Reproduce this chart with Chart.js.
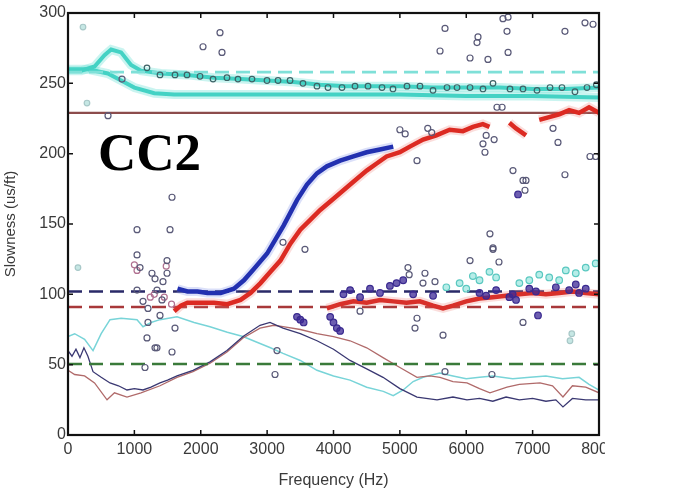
<!DOCTYPE html>
<html>
<head>
<meta charset="utf-8">
<script src="https://cdn.jsdelivr.net/npm/chart.js@4.4.1/dist/chart.umd.min.js"></script>
<style>
  body { margin: 0; background: #fff; }
  canvas { display: block; }
</style>
</head>
<body>
<canvas id="slowChart" width="675" height="494"></canvas>
<script>
// ===== AXIS TICKS =====
const xTicks = [0, 1000, 2000, 3000, 4000, 5000, 6000, 7000, 8000];
const yTicks = [0, 50, 100, 150, 200, 250, 300];

// ===== REFERENCE LINES (flat) =====
const flatFreq = [0, 8000];
const brownFlat = [229, 229];
const cyanDash = [258, 258];
const blueDash = [102, 102];
const redDash = [91, 91];
const greenDash = [50.5, 50.5];

// ===== CYAN BAND CURVES =====
const cyanAFreq = [0, 200, 400, 550, 650, 800, 950, 1100, 1400, 1800, 2200, 2600, 3000, 3400, 3800, 4200, 4600, 5000, 5500, 6000, 6500, 7000, 7500, 8000];
const cyanAVal  = [259, 259, 262, 270, 274, 272, 263, 259, 257, 256, 254, 253, 252, 251, 249, 248, 248, 248, 247, 247, 247, 246, 246, 247];
const cyanBFreq = [0, 300, 600, 800, 1000, 1300, 1600, 2000, 3000, 4000, 5000, 6000, 7000, 8000];
const cyanBVal  = [260, 260, 257, 252, 247, 243, 242, 242, 242, 242, 242, 241, 241, 240];

// circles riding on the cyan band
const bandFreq = [1190, 1386, 1612, 1793, 1989, 2185, 2395, 2561, 2772, 2998, 3164, 3345, 3540, 3751, 3917, 4128, 4324, 4520, 4731, 4896, 5107, 5303, 5499, 5710, 5861, 6057, 6252, 6403, 6659, 6855, 7066, 7262, 7442, 7638, 7819, 7960];
const bandVal  = [261, 256, 256, 256, 255, 253, 254, 253, 253, 252, 252, 252, 250, 248, 247, 247, 248, 248, 247, 246, 248, 248, 245, 247, 247, 247, 246, 250, 246, 246, 245, 247, 247, 244, 247, 249];

// ===== DISPERSION CURVES =====
const blueFreq = [1650, 1800, 1950, 2100, 2300, 2500, 2650, 2800, 3000, 3150, 3250, 3450, 3600, 3750, 3900, 4100, 4300, 4500, 4700, 4900];
const blueVal  = [104, 102, 102, 101, 101, 104, 110, 118, 129, 141, 149, 167, 178, 186, 191, 195, 198, 201, 203, 205];
const redFreq = [1600, 1700, 1800, 2000, 2200, 2400, 2600, 2750, 2900, 3050, 3200, 3350, 3500, 3650, 3800, 4000, 4150, 4300, 4500, 4650, 4800, 5000, 5150, 5350, 5550, 5750, 5950, 6100, 6250, 6350, 6500, 6650, 6750, 6900, 7000, 7100, 7250, 7400, 7550, 7700, 7850, 8000];
const redVal   = [88, 92, 94, 94, 94, 93, 96, 101, 108, 116, 124, 136, 146, 153, 160, 168, 174, 180, 188, 193, 198, 201, 205, 210, 213, 217, 216, 219, 221, 219, null, 222, 218, 213, null, 224, 226, 228, 231, 229, 233, 229];
const redLowFreq = [3900, 4100, 4300, 4500, 4700, 4900, 5100, 5300, 5500, 5650, 5800, 6000, 6200, 6400, 6600, 6800, 7000, 7200, 7400, 7600, 7800, 8000];
const redLowVal  = [90, 93, 95, 94, 96, 95, 94, 95, 92, 90, 92, 95, 97, 98, 99, 100, 101, 100, 101, 102, 101, 100];

// ===== THIN CURVES =====
const cyanThinFreq = [0, 100, 250, 377, 500, 633, 800, 1040, 1130, 1250, 1386, 1642, 1900, 2140, 2400, 2637, 2893, 3050, 3239, 3500, 3751, 4000, 4249, 4500, 4750, 4900, 5050, 5200, 5350, 5600, 5800, 6000, 6200, 6400, 6700, 6960, 7200, 7450, 7700, 7850, 8000];
const cyanThinVal  = [70, 72, 68, 60, 72, 82, 83, 82, 77, 80, 82, 84, 80, 77, 73, 70, 65, 62, 58, 53, 46, 42, 39, 34, 31, 28, 32, 38, 41, 44, 42, 40, 41, 42, 40, 41, 42, 40, 41, 36, 32];
const navyFreq = [0, 60, 120, 180, 240, 300, 377, 500, 633, 760, 889, 1000, 1130, 1250, 1386, 1500, 1642, 1883, 2140, 2395, 2637, 2893, 3043, 3239, 3500, 3751, 4000, 4249, 4500, 4746, 5000, 5258, 5560, 5800, 6011, 6200, 6400, 6600, 6800, 7000, 7200, 7350, 7457, 7600, 7800, 8000];
const navyVal  = [60, 56, 61, 55, 62, 56, 45, 41, 37, 35, 32, 33, 32, 34, 37, 39, 42, 46, 52, 60, 70, 78, 80, 76, 72, 67, 61, 53, 47, 41, 33, 27, 25, 27, 25, 26, 24, 27, 25, 26, 24, 25, 20, 26, 25, 25];
const brownFreq = [0, 100, 250, 400, 588, 700, 889, 1100, 1386, 1642, 1883, 2140, 2395, 2637, 2893, 3100, 3239, 3500, 3751, 4000, 4249, 4500, 4746, 5000, 5258, 5450, 5605, 5800, 6011, 6200, 6357, 6614, 6800, 7111, 7300, 7457, 7600, 7800, 8000];
const brownVal  = [46, 43, 42, 37, 25, 30, 27, 30, 35, 41, 45, 51, 59, 69, 76, 78, 77, 75, 72, 70, 67, 62, 55, 48, 41, 42, 41, 38, 37, 33, 30, 34, 36, 37, 35, 27, 35, 34, 30];

// ===== SCATTERED CIRCLES =====
const greyFreq = [603, 814, 2034, 2290, 2320, 1567, 1040, 1537, 1040, 1492, 1085, 1265, 1311, 1492, 1431, 1040, 1341, 1130, 1416, 1205, 1386, 1205, 1612, 1190, 1311, 1340, 1567, 1160, 3239, 3570, 3149, 3119, 5258, 5228, 5650, 5680, 6387, 4400, 6855, 6403, 6057, 6493, 5122, 5140, 5378, 5529, 5348, 5680, 5605, 6177, 6162, 6057, 6327, 6553, 6630, 6614, 6630, 7487, 7789, 7910, 6463, 6540, 6704, 6855, 6900, 6885, 7487, 7307, 7382, 6357, 6403, 5258, 6252, 6282, 7864, 7950, 6300, 6420, 5000, 5080, 5420, 5480];
const greyVal  = [227, 253, 276, 286, 272, 169, 146, 146, 128, 124, 119, 115, 111, 115, 109, 103, 103, 95, 96, 90, 85, 80, 76, 69, 62, 62, 59, 48, 137, 132, 60, 43, 83, 76, 71, 45, 43, 88, 80, 132, 124, 123, 119, 114, 115, 109, 108, 289, 273, 283, 279, 268, 267, 296, 297, 287, 272, 287, 293, 292, 233, 233, 188, 181, 181, 174, 185, 218, 208, 143, 133, 195, 207, 201, 198, 198, 213, 210, 217, 214, 218, 215];
const pinkFreq = [1000, 1040, 1240, 1300, 1450, 1480, 1560];
const pinkVal  = [121, 117, 98, 100, 98, 120, 93];
const faintFreq = [226, 286, 150, 7563, 7590];
const faintVal  = [290, 236, 119, 67, 72];
const tealFreq = [5700, 5900, 6000, 6100, 6200, 6350, 6450, 6800, 6950, 7100, 7250, 7400, 7500, 7650, 7800, 7950];
const tealVal  = [105, 108, 104, 113, 110, 116, 112, 108, 110, 114, 112, 110, 117, 115, 119, 122];
const purpleFreq = [3450, 3500, 3550, 3950, 4000, 4050, 4100, 4150, 4250, 4400, 4550, 4700, 4850, 4950, 5050, 5200, 5500, 6200, 6300, 6450, 6650, 6700, 6750, 6950, 7050, 7350, 7550, 7650, 7700, 7800, 6780, 7081];
const purpleVal  = [84, 82, 80, 84, 80, 76, 74, 100, 103, 98, 104, 101, 106, 108, 110, 100, 99, 101, 99, 103, 98, 100, 96, 104, 102, 105, 103, 107, 101, 104, 171, 85];

function pts(xs, ys) {
  return xs.map((x, i) => ({ x: x, y: ys[i] }));
}

// ===== DRAW HELPERS =====
const frame = {
  id: "frame",
  afterDatasetsDraw(chart) {
    const c = chart.ctx;
    const a = chart.chartArea;
    const xs = chart.scales.x;
    const ys = chart.scales.y;
    c.save();
    c.strokeStyle = "#111";
    c.lineWidth = 1.5;
    xTicks.forEach(v => {
      const p = xs.getPixelForValue(v);
      c.beginPath();
      c.moveTo(p, a.bottom); c.lineTo(p, a.bottom - 5);
      c.moveTo(p, a.top); c.lineTo(p, a.top + 5);
      c.stroke();
    });
    yTicks.forEach(v => {
      const p = ys.getPixelForValue(v);
      c.beginPath();
      c.moveTo(a.left, p); c.lineTo(a.left + 5, p);
      c.moveTo(a.right, p); c.lineTo(a.right - 5, p);
      c.stroke();
    });
    c.lineWidth = 2.2;
    c.strokeRect(a.left, a.top, a.right - a.left, a.bottom - a.top);
    // label
    c.fillStyle = "#000";
    c.font = "bold 53px 'Liberation Serif', 'Times New Roman', serif";
    c.textBaseline = "alphabetic";
    c.fillText("CC2", 98, 170);
    c.restore();
  },
  afterDraw(chart) {
    // the source picture is cut off just right of the plot
    const c = chart.ctx;
    c.save();
    c.fillStyle = "#fff";
    c.fillRect(605, 0, 70, 494);
    c.restore();
  }
};

function line(data, color, width, extra) {
  return Object.assign({
    type: "line", data: data, borderColor: color, borderWidth: width,
    pointRadius: 0, fill: false, tension: 0, spanGaps: false
  }, extra || {});
}
function circles(data, color, fillColor, r) {
  return {
    type: "scatter", data: data, borderColor: color, backgroundColor: fillColor,
    pointRadius: r || 3, borderWidth: 1.2, showLine: false
  };
}

// ===== CHART =====
const ctx = document.getElementById("slowChart").getContext("2d");
const tickFont = { family: "'Liberation Sans', Arial, sans-serif", size: 16 };

new Chart(ctx, {
  type: "line",
  data: {
    datasets: [
      circles(pts(purpleFreq, purpleVal), "#3a2a90", "rgba(60,40,150,0.75)", 3.3),
      circles(pts(greyFreq, greyVal), "#5a5a78", "rgba(0,0,0,0)", 3),
      circles(pts(pinkFreq, pinkVal), "#b07090", "rgba(0,0,0,0)", 3),
      circles(pts(tealFreq, tealVal), "#5ac8c0", "rgba(110,220,210,0.5)", 3.3),
      circles(pts(bandFreq, bandVal), "#3e6266", "rgba(0,0,0,0)", 2.8),
      circles(pts(faintFreq, faintVal), "#a8c8c8", "rgba(160,215,210,0.6)", 2.8),
      line(pts(blueFreq, blueVal), "#2230b0", 4.5),
      line(pts(blueFreq, blueVal), "rgba(110,130,230,0.25)", 9),
      line(pts(redFreq, redVal), "#dc2a22", 4.5),
      line(pts(redFreq, redVal), "rgba(240,120,110,0.25)", 9),
      line(pts(redLowFreq, redLowVal), "#d8302a", 4.5),
      line(pts(redLowFreq, redLowVal), "rgba(240,120,110,0.25)", 9),
      line(pts(flatFreq, blueDash), "#2a2a68", 2.4, { borderDash: [14, 7] }),
      line(pts(flatFreq, redDash), "#a8383a", 2.4, { borderDash: [14, 7] }),
      line(pts(flatFreq, greenDash), "#3a7a3a", 2.4, { borderDash: [14, 7] }),
      line(pts(navyFreq, navyVal), "#3a3872", 1.3),
      line(pts(brownFreq, brownVal), "#b06a6a", 1.3),
      line(pts(cyanThinFreq, cyanThinVal), "#78d4d8", 1.5),
      line(pts(flatFreq, brownFlat), "#8c4c4c", 2.4),
      line(pts(flatFreq, cyanDash), "#7fe0d8", 2.6, { borderDash: [14, 7] }),
      line(pts(cyanAFreq, cyanAVal), "#44d2c4", 4),
      line(pts(cyanAFreq, cyanAVal), "rgba(80,220,205,0.3)", 9),
      line(pts(cyanBFreq, cyanBVal), "#44d2c4", 4),
      line(pts(cyanBFreq, cyanBVal), "rgba(80,220,205,0.3)", 9)
    ]
  },
  options: {
    responsive: false,
    animation: false,
    layout: { padding: { top: 13, right: 76, left: 0, bottom: 0 } },
    plugins: { legend: { display: false }, tooltip: { enabled: false } },
    scales: {
      x: {
        type: "linear", min: 0, max: 8000,
        afterBuildTicks: s => { s.ticks = xTicks.map(v => ({ value: v })); },
        afterFit: s => { s.height = 59; },
        grid: { display: false, drawTicks: false },
        border: { display: false },
        ticks: { color: "#3a3a3a", font: tickFont, padding: 5, maxRotation: 0, callback: v => String(v) },
        title: { display: true, text: "Frequency (Hz)", color: "#3a3a3a", font: tickFont, padding: { top: 0, bottom: 4 } }
      },
      y: {
        type: "linear", min: 0, max: 300,
        afterBuildTicks: s => { s.ticks = yTicks.map(v => ({ value: v })); },
        afterFit: s => { s.width = 68; },
        grid: { display: false, drawTicks: false },
        border: { display: false },
        ticks: { color: "#3a3a3a", font: tickFont, padding: 2, callback: v => String(v) },
        title: { display: true, text: "Slowness (us/ft)", color: "#3a3a3a", font: { family: tickFont.family, size: 15 }, padding: { top: 2, bottom: 0 } }
      }
    }
  },
  plugins: [frame]
});
</script>
</body>
</html>
